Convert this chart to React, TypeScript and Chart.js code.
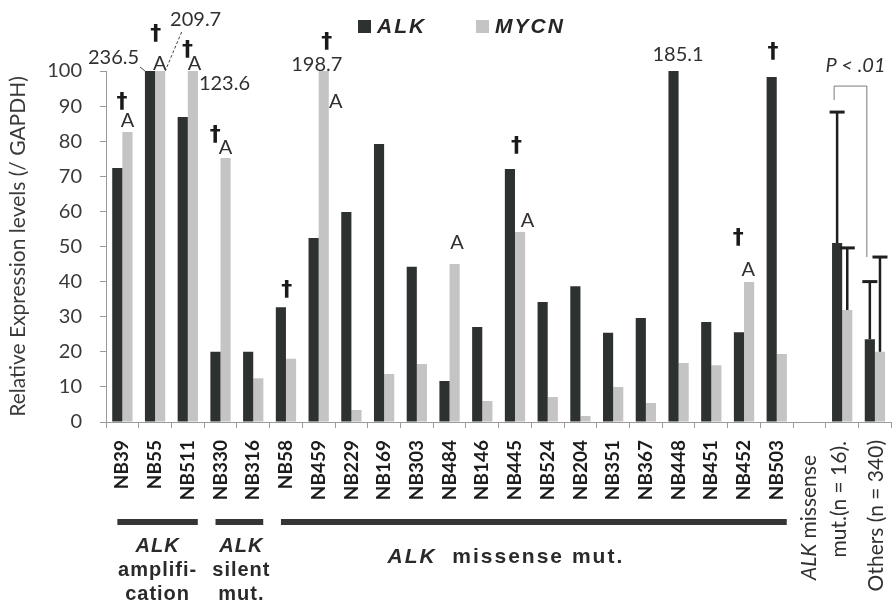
import React, { useEffect, useRef } from 'react';
import { Chart, registerables } from 'chart.js';

Chart.register(...registerables);

// Neuroblastoma samples, ordered by ALK status
const samples = [
  'NB39', 'NB55', 'NB511', 'NB330', 'NB316', 'NB58', 'NB459', 'NB229', 'NB169', 'NB303', 'NB484',
  'NB146', 'NB445', 'NB524', 'NB204', 'NB351', 'NB367', 'NB448', 'NB451', 'NB452', 'NB503',
];
const summaryLabels = ['ALK missense mut.(n = 16)', 'Others (n = 340)'];
const categories = [...samples, '', ...summaryLabels];

// Expression relative to GAPDH; the axis stops at 100, taller bars are cut there
const alkLevels = [
  72.4, 236.5, 86.9, 20.0, 20.0, 32.7, 52.4, 59.8, 79.2, 44.2, 11.7,
  27.1, 72.1, 34.2, 38.7, 25.4, 29.6, 185.1, 28.5, 25.6, 98.3,
  null, 51.0, 23.6,
];
const mycnLevels = [
  82.6, 209.7, 123.6, 75.2, 12.5, 18.0, 198.7, 3.4, 13.7, 16.5, 45.0,
  6.0, 54.1, 7.1, 1.7, 10.0, 5.4, 16.8, 16.2, 39.9, 19.4,
  null, 31.9, 20.0,
];

// Upper ends of the SD bars for the two summary groups
const alkSdTop = [88.3, 40.0];
const mycnSdTop = [49.6, 47.0];

const yMax = 100;
const yStep = 10;

// Sample groups marked under the axis
const groups = [
  { first: 0, last: 2, lines: ['ALK', 'amplifi-', 'cation'], shift: 0 },
  { first: 3, last: 4, lines: ['ALK', 'silent', 'mut.'], shift: 2 },
  { first: 5, last: 20, lines: ['ALK missense mut.'], shift: -28 },
];

// Dagger marks (offsets from the top of the named bar)
const daggerMarks = [
  { i: 0, on: 1, dx: -5.5, dy: -30 },
  { i: 1, on: 1, dx: -4.5, dy: -37 },
  { i: 2, on: 1, dx: -5.4, dy: -21 },
  { i: 3, on: 1, dx: -10.3, dy: -23 },
  { i: 5, on: 0, dx: 5.8, dy: -17 },
  { i: 6, on: 1, dx: 3, dy: -29 },
  { i: 12, on: 0, dx: 6.5, dy: -23 },
  { i: 19, on: 1, dx: -10.8, dy: -44 },
  { i: 20, on: 0, dx: 1.3, dy: -25 },
];

// "A" marks over the MYCN bars
const aMarks = [
  { i: 0, dx: 0, dy: -11.5 },
  { i: 1, dx: -0.5, dy: -7 },
  { i: 2, dx: 1.6, dy: -7 },
  { i: 3, dx: 0, dy: -10.5 },
  { i: 6, dx: 12, dy: 31 },
  { i: 10, dx: 2.3, dy: -22 },
  { i: 12, dx: 7.5, dy: -12 },
  { i: 19, dx: -0.8, dy: -12 },
];

// Value captions for the bars that run past the top of the axis
const valueNotes = [
  { i: 1, on: 0, dx: -36.5, dy: -13, leader: 'solid' },
  { i: 1, on: 1, dx: 35.5, dy: -51, leader: 'dashed' },
  { i: 2, on: 1, dx: 31.6, dy: 13, leader: '' },
  { i: 6, on: 1, dx: -7, dy: -6, leader: '' },
  { i: 17, on: 0, dx: 4.5, dy: -16, leader: '' },
];

const ALK_COLOR = '#2d3230';
const MYCN_COLOR = '#c4c4c4';
const TEXT = '#303030';

function spaced(ctx: CanvasRenderingContext2D, px: number) {
  (ctx as any).letterSpacing = px + 'px';
}

const annotations = {
  id: 'annotations',
  afterDatasetsDraw(chart: any) {
    const { ctx, chartArea: area } = chart;
    const ys = chart.scales.y;
    const levels = [alkLevels, mycnLevels];
    const barTop = (ds: number, i: number) => {
      const el = chart.getDatasetMeta(ds).data[i];
      return { x: el.x, y: Math.max(el.y, area.top), w: el.width };
    };

    ctx.save();
    ctx.textAlign = 'center';
    ctx.textBaseline = 'middle';

    // daggers
    ctx.fillStyle = '#1a1a1a';
    ctx.font = 'bold 22px "DejaVu Sans"';
    daggerMarks.forEach((m) => {
      const p = barTop(m.on, m.i);
      ctx.fillText('\u2020', p.x + m.dx, p.y + m.dy);
    });

    // "A" marks
    ctx.fillStyle = TEXT;
    ctx.font = '20px Lato';
    aMarks.forEach((m) => {
      const p = barTop(1, m.i);
      ctx.fillText('A', p.x + m.dx, p.y + m.dy);
    });

    // values of the cut bars
    valueNotes.forEach((n) => {
      const p = barTop(n.on, n.i);
      const v = levels[n.on][n.i] as number;
      const tx = p.x + n.dx;
      const ty = p.y + n.dy;
      ctx.fillStyle = TEXT;
      ctx.font = '20px Lato';
      const label = v.toFixed(1);
      ctx.fillText(label, tx, ty);
      const half = ctx.measureText(label).width / 2;
      if (n.leader === 'solid') {
        ctx.strokeStyle = '#444';
        ctx.lineWidth = 1;
        ctx.beginPath();
        ctx.moveTo(tx + half + 1, ty + 9);
        ctx.lineTo(p.x - p.w / 2, p.y);
        ctx.stroke();
      } else if (n.leader === 'dashed') {
        ctx.strokeStyle = '#444';
        ctx.lineWidth = 1;
        ctx.setLineDash([3, 2]);
        ctx.beginPath();
        ctx.moveTo(tx - 14, ty + 12);
        ctx.lineTo(p.x + p.w / 2, p.y);
        ctx.stroke();
        ctx.setLineDash([]);
      }
    });

    // SD bars of the summary groups
    const base = samples.length + 1;
    const sdTops = [alkSdTop, mycnSdTop];
    ctx.strokeStyle = '#1e1e1e';
    [0, 1].forEach((k) => {
      [0, 1].forEach((ds) => {
        const el = chart.getDatasetMeta(ds).data[base + k];
        const yTop = ys.getPixelForValue(sdTops[ds][k]);
        ctx.lineWidth = 2.5;
        ctx.beginPath();
        ctx.moveTo(el.x, el.y);
        ctx.lineTo(el.x, yTop);
        ctx.stroke();
        ctx.lineWidth = 3;
        ctx.beginPath();
        ctx.moveTo(el.x - 7.5, yTop);
        ctx.lineTo(el.x + 7.5, yTop);
        ctx.stroke();
      });
    });

    // significance bracket between the two summary groups
    const left = chart.getDatasetMeta(0).data[base].x - 3;
    const right = chart.getDatasetMeta(0).data[base + 1].x - 3;
    const bracketY = ys.getPixelForValue(alkSdTop[0]) - 26;
    ctx.strokeStyle = '#7a7a7a';
    ctx.lineWidth = 1;
    ctx.beginPath();
    ctx.moveTo(left, bracketY + 14);
    ctx.lineTo(left, bracketY);
    ctx.lineTo(right, bracketY);
    ctx.lineTo(right, ys.getPixelForValue(mycnSdTop[1]));
    ctx.stroke();
    ctx.fillStyle = TEXT;
    ctx.font = 'italic 20px Lato';
    ctx.fillText('P < .01', (left + right) / 2 + 5, bracketY - 21);

    ctx.restore();
  },
  afterDraw(chart: any) {
    const { ctx } = chart;
    const xs = chart.scales.x;
    ctx.save();

    // legend
    ctx.textAlign = 'left';
    ctx.textBaseline = 'middle';
    ctx.font = 'italic bold 21px "Liberation Sans"';
    spaced(ctx, 2);
    ctx.fillStyle = ALK_COLOR;
    ctx.fillRect(358, 20, 13, 13);
    ctx.fillStyle = '#262626';
    ctx.fillText('ALK', 377, 27);
    ctx.fillStyle = MYCN_COLOR;
    ctx.fillRect(476, 20, 13, 13);
    ctx.fillStyle = '#262626';
    ctx.fillText('MYCN', 495, 27);

    // group bars and captions
    ctx.textAlign = 'center';
    ctx.textBaseline = 'alphabetic';
    groups.forEach((g) => {
      const x0 = xs.getPixelForValue(g.first) - 5;
      const x1 = xs.getPixelForValue(g.last) + 10;
      ctx.fillStyle = '#353535';
      ctx.fillRect(x0, 519, x1 - x0, 6);
      const cx = (x0 + x1) / 2 + g.shift;
      ctx.fillStyle = '#2a2a2a';
      if (g.lines.length === 1) {
        const rest = g.lines[0].replace(/^ALK/, '');
        spaced(ctx, 2);
        ctx.font = 'italic bold 21px "Liberation Sans"';
        const w1 = ctx.measureText('ALK ').width;
        ctx.font = 'bold 21px "Liberation Sans"';
        const w2 = ctx.measureText(rest).width;
        const start = cx - (w1 + w2) / 2;
        ctx.textAlign = 'left';
        ctx.font = 'italic bold 21px "Liberation Sans"';
        ctx.fillText('ALK ', start, 563);
        ctx.font = 'bold 21px "Liberation Sans"';
        ctx.fillText(rest, start + w1, 563);
        ctx.textAlign = 'center';
      } else {
        spaced(ctx, 1);
        g.lines.forEach((line, k) => {
          ctx.font = (k === 0 ? 'italic ' : '') + 'bold 20px "Liberation Sans"';
          ctx.fillText(line, cx, 552 + k * 24);
        });
      }
    });
    spaced(ctx, 0);

    // captions of the summary columns, written upward
    const drawUp = (parts: { t: string; f: string }[], x: number, yEnd: number) => {
      ctx.save();
      ctx.translate(x, yEnd);
      ctx.rotate(-Math.PI / 2);
      ctx.textAlign = 'left';
      ctx.textBaseline = 'middle';
      let total = 0;
      parts.forEach((p) => { ctx.font = p.f; total += ctx.measureText(p.t).width; });
      let pos = -total;
      parts.forEach((p) => {
        ctx.font = p.f;
        ctx.fillText(p.t, pos, 0);
        pos += ctx.measureText(p.t).width;
      });
      ctx.restore();
    };
    ctx.fillStyle = TEXT;
    const base = samples.length;
    drawUp([{ t: 'ALK', f: 'italic 21px Lato' }, { t: ' missense', f: '21px Lato' }], xs.getPixelForValue(base), 455);
    drawUp([{ t: 'mut.(n = 16).', f: '21px Lato' }], xs.getPixelForValue(base + 1) - 3, 441);
    drawUp([{ t: summaryLabels[1], f: '21px Lato' }], xs.getPixelForValue(base + 2) + 1, 440);

    ctx.restore();
  },
};

export default function App() {
  const canvasRef = useRef<HTMLCanvasElement | null>(null);

  useEffect(() => {
    const canvas = canvasRef.current;
    if (!canvas) return;
    const chart = new Chart(canvas, {
      type: 'bar',
      data: {
        labels: categories,
        datasets: [
          {
            label: 'ALK',
            data: alkLevels,
            backgroundColor: ALK_COLOR,
            categoryPercentage: 0.62,
            barPercentage: 1,
            clip: 0,
          } as any,
          {
            label: 'MYCN',
            data: mycnLevels,
            backgroundColor: MYCN_COLOR,
            categoryPercentage: 0.62,
            barPercentage: 1,
            clip: 0,
          } as any,
        ],
      },
      options: {
        responsive: false,
        animation: false,
        devicePixelRatio: 1,
        layout: { padding: { top: 71, right: 14, bottom: 0, left: 0 } },
        plugins: {
          legend: { display: false },
          tooltip: { enabled: false },
        },
        scales: {
          x: {
            type: 'category',
            grid: { offset: true, drawOnChartArea: false, tickLength: 6, color: '#9a9a9a' },
            border: { color: '#9a9a9a' },
            ticks: {
              autoSkip: false,
              minRotation: 90,
              maxRotation: 90,
              padding: 12,
              color: '#1c1c1c',
              font: { family: 'Lato', weight: 'bold', size: 19 },
              callback: (_v: any, i: number) => (i < samples.length ? samples[i] : ''),
            },
            afterFit: (s: any) => { s.height = 187; },
          },
          y: {
            min: 0,
            max: yMax,
            grid: { drawOnChartArea: false, tickLength: 6, color: '#9a9a9a' },
            border: { color: '#9a9a9a' },
            ticks: {
              stepSize: yStep,
              padding: 18,
              color: '#3a3a3a',
              font: { family: 'Lato', size: 20 },
            },
            title: {
              display: true,
              text: 'Relative Expression levels (/ GAPDH)',
              color: '#3a3a3a',
              font: { family: 'Lato', size: 21 },
              padding: { top: 6, bottom: 0 },
            },
            afterFit: (s: any) => { s.width = 106; },
          },
        },
      } as any,
      plugins: [annotations],
    });
    return () => chart.destroy();
  }, []);

  return (
    <div style={{ position: 'fixed', left: 0, top: 0, width: 893, height: 609, overflow: 'hidden', background: '#fff' }}>
      <canvas ref={canvasRef} width={910} height={609} style={{ display: 'block', width: 910, height: 609 }} />
    </div>
  );
}
